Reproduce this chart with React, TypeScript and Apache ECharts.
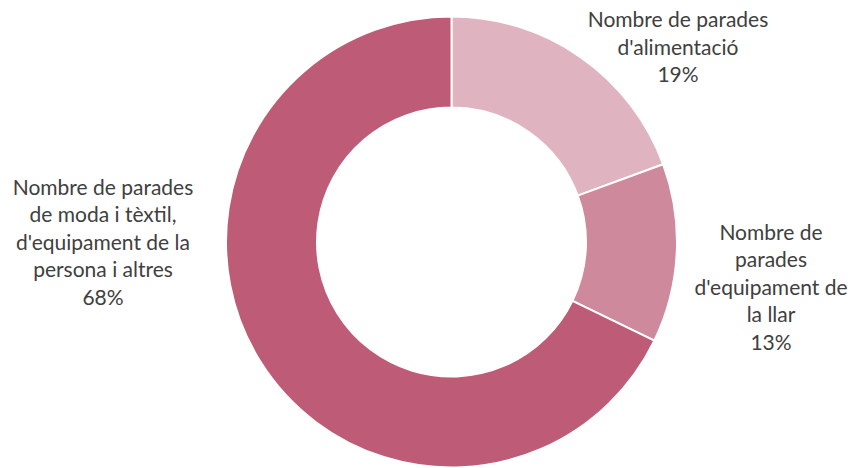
import React, { useEffect, useRef } from "react";
import * as echarts from "echarts";

const categories = [
  "Nombre de parades\nd'alimentació",
  "Nombre de\nparades\nd'equipament de\nla llar",
  "Nombre de parades\nde moda i tèxtil,\nd'equipament de la\npersona i altres",
];
const values = [19.4, 12.8, 67.8];
const colors = ["#E0B3C0", "#CE899C", "#BE5C77"];
const labelPos = [
  { x: 678, y: 46 },
  { x: 771, y: 286 },
  { x: 103, y: 241 },
];

export default function App() {
  const ref = useRef<HTMLDivElement>(null);
  useEffect(() => {
    if (!ref.current) return;
    const chart = echarts.init(ref.current, undefined, { renderer: "svg" });
    chart.setOption({
      animation: false,
      backgroundColor: "#ffffff",
      series: [
        {
          type: "pie",
          center: [451.5, 242],
          radius: [134.5, 225.5],
          startAngle: 90,
          clockwise: true,
          avoidLabelOverlap: false,
          itemStyle: { borderColor: "#ffffff", borderWidth: 2 },
          label: {
            show: true,
            position: "outside",
            formatter: (p: any) => `${p.name}\n${Math.round(p.value)}%`,
            fontFamily: "Lato, 'Open Sans', sans-serif",
            fontSize: 21,
            lineHeight: 27.5,
            color: "#404040",
            align: "center",
          },
          labelLine: { show: false },
          labelLayout: (params: any) => ({
            x: labelPos[params.dataIndex].x,
            y: labelPos[params.dataIndex].y,
            align: "center",
            verticalAlign: "middle",
          }),
          data: categories.map((name, i) => ({
            name,
            value: values[i],
            itemStyle: { color: colors[i] },
          })),
        },
      ],
    });
    return () => chart.dispose();
  }, []);
  return (
    <div
      ref={ref}
      style={{ position: "fixed", left: 0, top: 0, width: 853, height: 468 }}
    />
  );
}
